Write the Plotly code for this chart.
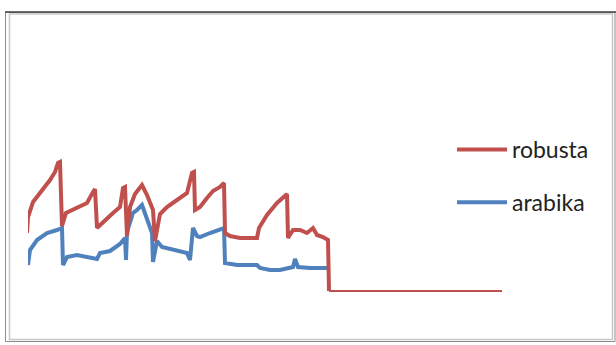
import plotly.graph_objects as go

# Weekly price index per coffee type (week number, index level)
robusta_week = [-1, 0, 5, 12, 22, 27, 30, 32, 34, 38, 49, 59, 65, 67, 69, 75, 85, 92, 95, 97,
                99, 102, 107, 114, 119, 125, 127, 132, 139, 149, 159, 164, 166, 167, 172,
                179, 185, 192, 196, 197, 202, 212, 229, 231, 239, 249, 259, 260, 265, 272,
                279, 285, 289, 295, 300, 301, 474]
robusta = [58, 74, 89, 98, 111, 119, 128, 129, 65, 78, 83, 88, 99, 102, 63, 69, 78, 84,
           103, 104, 55, 84, 97, 106, 96, 81, 50, 77, 84, 91, 98, 118, 119, 81, 84, 93,
           100, 104, 108, 58, 55, 53, 53, 63, 76, 88, 97, 53, 61, 61, 58, 63, 56, 54, 51,
           0, 0]

arabika_week = [0, 2, 9, 19, 29, 34, 35, 39, 49, 59, 69, 72, 82, 92, 95, 97, 98, 99, 105,
                109, 114, 119, 124, 125, 129, 134, 149, 159, 162, 165, 169, 172, 182, 192,
                196, 197, 209, 229, 232, 242, 252, 265, 267, 270, 282, 299]
arabika = [26, 41, 51, 58, 61, 63, 26, 34, 36, 34, 32, 38, 40, 47, 51, 53, 31, 59, 78,
           81, 86, 71, 58, 29, 50, 44, 41, 38, 31, 63, 55, 54, 58, 61, 63, 28, 26, 26,
           23, 21, 21, 24, 32, 24, 23, 23]

RED = "#C0504D"
BLUE = "#4F81BD"
W, H = 616, 345
ML, MR, MT, MB = 28, 114, 20, 25

# the robusta series stops trading where the index falls to zero
cut = robusta.index(0)

fig = go.Figure()
fig.add_trace(go.Scatter(x=arabika_week, y=arabika, mode="lines", name="arabika",
                         legendgroup="arabika", legendrank=2,
                         line=dict(color=BLUE, width=4)))
fig.add_trace(go.Scatter(x=robusta_week[:cut + 1], y=robusta[:cut + 1], mode="lines",
                         name="robusta", legendgroup="robusta", legendrank=1,
                         line=dict(color=RED, width=4)))
fig.add_trace(go.Scatter(x=robusta_week[cut:], y=robusta[cut:], mode="lines",
                         name="robusta", legendgroup="robusta", showlegend=False,
                         line=dict(color=RED, width=2)))


def px_x(p):
    return (p - ML) / (W - ML - MR)


def px_y(p):
    return (H - MB - p) / (H - MT - MB)


# chart frame
fig.add_shape(type="rect", xref="paper", yref="paper",
              x0=px_x(5.5), x1=px_x(615), y0=px_y(341.5), y1=px_y(12.5),
              line=dict(color="#8c8c8c", width=1))
fig.add_shape(type="rect", xref="paper", yref="paper",
              x0=px_x(9.5), x1=px_x(612.5), y0=px_y(339.5), y1=px_y(14),
              line=dict(color="#c8c8c8", width=1.5))
fig.add_shape(type="line", xref="paper", yref="paper",
              x0=px_x(5), x1=px_x(616), y0=px_y(12), y1=px_y(12),
              line=dict(color="#404040", width=1.5))

fig.update_layout(
    width=W, height=H,
    margin=dict(l=ML, r=MR, t=MT, b=MB),
    paper_bgcolor="white", plot_bgcolor="white",
    xaxis=dict(visible=False, range=[0, W - ML - MR]),
    yaxis=dict(visible=False, range=[-29, 271]),
    showlegend=True,
    legend=dict(x=px_x(452), y=px_y(128), xanchor="left", yanchor="top",
                font=dict(family="Lato", size=23, color="#222222"),
                itemwidth=50, tracegroupgap=20, bgcolor="rgba(0,0,0,0)"),
)

fig.write_html("out.html")
